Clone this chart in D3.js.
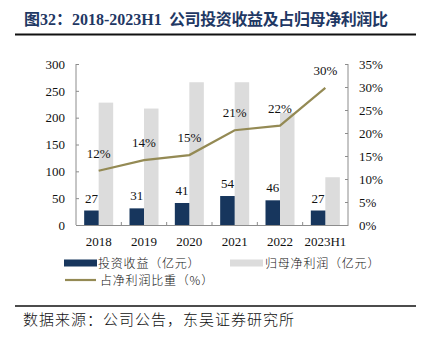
<!DOCTYPE html>
<html>
<head>
<meta charset="utf-8">
<script src="https://cdn.jsdelivr.net/npm/d3@7"></script>
<style>
  body { margin: 0; background: #fff; }
  svg { display: block; }
</style>
</head>
<body>
<svg id="chart"></svg>
<script>
// data
const years = ["2018", "2019", "2020", "2021", "2022", "2023H1"];
const investIncome = [27, 31, 41, 54, 46, 27];          // 投资收益（亿元）
const netProfit = [228, 217, 266, 266, 209, 89];         // 归母净利润（亿元）
const ratio = [11.8, 14.1, 15.2, 20.6, 21.6, 29.8];      // 占净利润比重（%）
const ratioLabels = ["12%", "14%", "15%", "21%", "22%", "30%"];
const leftTicks = [0, 50, 100, 150, 200, 250, 300];
const rightTicks = [0, 5, 10, 15, 20, 25, 30, 35];

const width = 432, height = 343;
const margin = { top: 64, right: 84, bottom: 118, left: 76 };

const serif = "'Liberation Serif', 'Times New Roman', serif";
const cjk = "'Noto Sans CJK SC', sans-serif";

const svg = d3.select("#chart")
  .attr("width", width)
  .attr("height", height);

// title
const title = svg.append("text")
  .attr("x", 24)
  .attr("y", 25)
  .attr("font-family", serif + ", 'Noto Sans CJK SC'")
  .attr("font-weight", "bold")
  .attr("font-size", 16)
  .attr("fill", "#1f3864");
title.append("tspan").text("图32：");
title.append("tspan").attr("x", 72).text("2018-2023H1");
title.append("tspan")
  .attr("x", 169)
  .attr("textLength", 219)
  .attr("lengthAdjust", "spacing")
  .text("公司投资收益及占归母净利润比");

svg.append("line")
  .attr("x1", 15).attr("x2", 416)
  .attr("y1", 34.5).attr("y2", 34.5)
  .attr("stroke", "#111").attr("stroke-width", 2);

// scales
const x = d3.scaleBand()
  .domain(years)
  .range([margin.left, width - margin.right]);

const sub = d3.scaleBand()
  .domain(["invest", "profit"])
  .range([-14.5, 14.5]);

const yLeft = d3.scaleLinear()
  .domain([0, 300])
  .range([height - margin.bottom, margin.top]);

const yRight = d3.scaleLinear()
  .domain([0, 35])
  .range([height - margin.bottom, margin.top]);

// axes
const axisColor = "#8c8c8c";

const gl = svg.append("g")
  .attr("transform", `translate(${margin.left},0)`)
  .call(d3.axisLeft(yLeft).tickValues(leftTicks).tickSize(-3).tickPadding(11));

const gr = svg.append("g")
  .attr("transform", `translate(${width - margin.right},0)`)
  .call(d3.axisRight(yRight).tickValues(rightTicks).tickSize(-3).tickPadding(11)
    .tickFormat(d => d + "%"));

const gx = svg.append("g")
  .attr("transform", `translate(0,${height - margin.bottom})`)
  .call(d3.axisBottom(x).tickSize(0).tickPadding(12));

// category separators on the x axis
gx.selectAll(".sep")
  .data(years.slice(1))
  .enter()
  .append("line")
  .attr("x1", d => x(d)).attr("x2", d => x(d))
  .attr("y1", 0).attr("y2", -3)
  .attr("stroke", axisColor);

[gl, gr, gx].forEach(g => {
  g.selectAll(".domain").attr("stroke", axisColor);
  g.selectAll(".tick line").attr("stroke", axisColor);
  g.selectAll("text")
    .attr("font-family", serif)
    .attr("font-size", 13)
    .attr("fill", "#111");
});
gl.select(".domain").attr("d", `M0,${yLeft(300)}V${yLeft(0)}`);
gr.select(".domain").attr("d", `M0,${yRight(35)}V${yRight(0)}`);

// bars
const rows = years.map((y, i) => ({ year: y, invest: investIncome[i], profit: netProfit[i], ratio: ratio[i], label: ratioLabels[i] }));
const cx = d => x(d.year) + x.bandwidth() / 2;

svg.append("g")
  .selectAll("rect")
  .data(rows)
  .enter()
  .append("rect")
  .attr("x", d => cx(d) + sub("profit"))
  .attr("y", d => yLeft(d.profit))
  .attr("width", sub.bandwidth())
  .attr("height", d => yLeft(0) - yLeft(d.profit))
  .attr("fill", "#dcdcdc");

svg.append("g")
  .selectAll("rect")
  .data(rows)
  .enter()
  .append("rect")
  .attr("x", d => cx(d) + sub("invest"))
  .attr("y", d => yLeft(d.invest))
  .attr("width", sub.bandwidth())
  .attr("height", d => yLeft(0) - yLeft(d.invest))
  .attr("fill", "#17365d");

// value labels on navy bars
svg.append("g")
  .selectAll("text")
  .data(rows)
  .enter()
  .append("text")
  .attr("x", d => cx(d) + sub("invest") + sub.bandwidth() / 2)
  .attr("y", d => yLeft(d.invest) - 8)
  .attr("text-anchor", "middle")
  .attr("font-family", serif)
  .attr("font-size", 13)
  .attr("fill", "#111")
  .text(d => d.invest);

// ratio line
const line = d3.line()
  .x(d => cx(d))
  .y(d => yRight(d.ratio));

svg.append("path")
  .datum(rows)
  .attr("d", line)
  .attr("fill", "none")
  .attr("stroke", "#948a54")
  .attr("stroke-width", 2.2);

svg.append("g")
  .selectAll("text")
  .data(rows)
  .enter()
  .append("text")
  .attr("x", d => cx(d))
  .attr("y", d => yRight(d.ratio) - 13)
  .attr("text-anchor", "middle")
  .attr("font-family", serif)
  .attr("font-size", 13)
  .attr("fill", "#111")
  .text(d => d.label);

// legend
const legend = svg.append("g")
  .attr("font-family", cjk)
  .attr("font-size", 12)
  .attr("font-weight", 300)
  .attr("letter-spacing", 0.8)
  .attr("fill", "#111");

legend.append("rect").attr("x", 64).attr("y", 259.5).attr("width", 33).attr("height", 7).attr("fill", "#17365d");
legend.append("text").attr("x", 98).attr("y", 267.5).text("投资收益（亿元）");
legend.append("rect").attr("x", 230).attr("y", 259.5).attr("width", 33).attr("height", 7).attr("fill", "#dcdcdc");
legend.append("text").attr("x", 265).attr("y", 267.5).text("归母净利润（亿元）");
legend.append("line").attr("x1", 65).attr("x2", 96).attr("y1", 280).attr("y2", 280)
  .attr("stroke", "#948a54").attr("stroke-width", 2.2);
legend.append("text").attr("x", 100).attr("y", 285).text("占净利润比重（%）");

// footer
svg.append("line")
  .attr("x1", 15).attr("x2", 416)
  .attr("y1", 306).attr("y2", 306)
  .attr("stroke", "#111").attr("stroke-width", 1.5);

svg.append("text")
  .attr("x", 23)
  .attr("y", 325)
  .attr("font-family", cjk)
  .attr("font-size", 15)
  .attr("font-weight", 300)
  .attr("letter-spacing", 1)
  .attr("fill", "#111")
  .text("数据来源：公司公告，东吴证券研究所");
</script>
</body>
</html>
